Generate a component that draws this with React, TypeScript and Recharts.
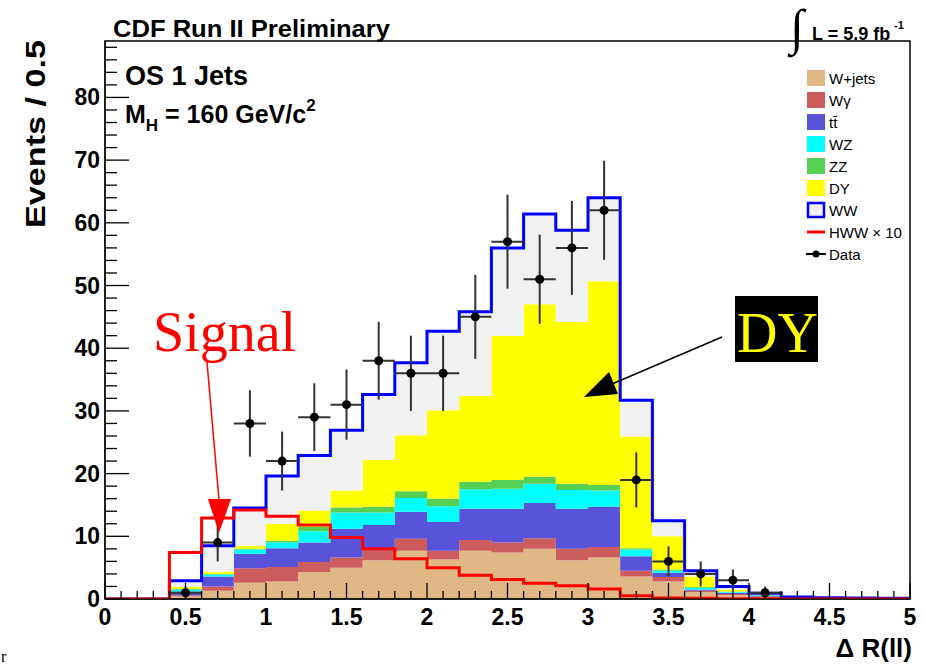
import React from "react";
import {
  ComposedChart,
  Area,
  Line,
  Scatter,
  ErrorBar,
  XAxis,
  YAxis,
  ReferenceArea,
} from "recharts";

// bin low edges (width 0.2), last edge 5
const BIN_LOW = [
  0, 0.2, 0.4, 0.6, 0.8, 1.0, 1.2, 1.4, 1.6, 1.8, 2.0, 2.2, 2.4, 2.6, 2.8,
  3.0, 3.2, 3.4, 3.6, 3.8, 4.0, 4.2, 4.4, 4.6, 4.8,
];
const LAST_EDGE = 5;

// background contributions per bin (stacked bottom -> top)
const W_JETS = [0, 0, 0.4, 1.3, 2.6, 2.8, 4.3, 5.0, 6.2, 7.7, 6.3, 7.7, 7.4, 8.0, 6.2, 6.6, 3.6, 2.8, 1.1, 0.6, 0.3, 0.1, 0.05, 0.03, 0.02];
const W_GAMMA = [0, 0, 0.2, 0.7, 2.3, 2.3, 1.6, 1.6, 1.8, 1.9, 1.4, 1.7, 1.6, 1.7, 1.8, 1.7, 0.9, 0.7, 0.2, 0.2, 0.1, 0.02, 0.01, 0.01, 0];
const TTBAR = [0, 0, 0.6, 1.6, 2.3, 3.0, 3.1, 4.6, 3.8, 4.3, 4.6, 5.0, 5.4, 5.6, 6.4, 6.4, 2.3, 0.7, 0.2, 0.2, 0.1, 0.05, 0.04, 0.03, 0.02];
const WZ = [0, 0, 0.3, 0.3, 0.7, 0.9, 1.8, 2.6, 2.0, 2.2, 2.5, 3.1, 3.2, 3.1, 3.0, 2.6, 1.1, 0.3, 0.3, 0.1, 0.1, 0.03, 0.02, 0.01, 0.01];
const ZZ = [0, 0, 0.1, 0.1, 0.1, 0.3, 0.7, 0.8, 0.9, 1.1, 1.2, 1.2, 1.4, 1.1, 1.0, 0.9, 0.2, 0.2, 0.1, 0.1, 0.05, 0, 0, 0, 0];
const DY = [0, 0, 0.3, 0.3, 0.5, 2.7, 2.6, 2.7, 7.5, 8.9, 14.1, 13.7, 23.0, 27.5, 25.8, 32.5, 17.8, 5.3, 1.7, 0.3, 0.05, 0.02, 0.01, 0.01, 0.01];
const WW = [0, 0, 1.0, 4.2, 6.0, 7.6, 8.8, 9.6, 10.4, 11.6, 12.6, 13.4, 14.0, 14.4, 14.6, 13.3, 5.8, 2.5, 0.9, 0.5, 0.2, 0.08, 0.07, 0.06, 0.04];
// signal, scaled x10
const HWW_X10 = [0, 0, 7.4, 12.9, 14.2, 13.2, 11.8, 9.8, 8.0, 6.4, 5.0, 3.8, 3.1, 2.5, 2.1, 1.6, 0.5, 0.15, 0.1, 0.05, 0.03, 0.02, 0.01, 0.01, 0.01];

// data points
const DATA_X = [0.5, 0.7, 0.9, 1.1, 1.3, 1.5, 1.7, 1.9, 2.1, 2.3, 2.5, 2.7, 2.9, 3.1, 3.3, 3.5, 3.7, 3.9, 4.1];
const DATA_Y = [1, 9, 28, 22, 29, 31, 38, 36, 36, 45, 57, 51, 56, 62, 19, 6, 4, 3, 1];
const DATA_ERR = [1, 3, 5.3, 4.7, 5.4, 5.6, 6.2, 6, 6, 6.7, 7.5, 7.1, 7.5, 7.9, 4.4, 2.4, 2, 1.7, 1];

const X_LABELS = [0, 0.5, 1, 1.5, 2, 2.5, 3, 3.5, 4, 4.5, 5];
const Y_LABELS = [0, 10, 20, 30, 40, 50, 60, 70, 80];

const COLORS = {
  wjets: "#dfb886",
  wg: "#cd5c5c",
  tt: "#5953d9",
  wz: "#00ffff",
  zz: "#55d055",
  dy: "#ffff00",
  wwFill: "#f1f1f1",
  wwLine: "#0000ff",
  hww: "#ff0000",
};

const LEGEND = [
  { label: "W+jets", kind: "box", color: COLORS.wjets },
  { label: "Wγ", kind: "box", color: COLORS.wg },
  { label: "tt̄", kind: "box", color: COLORS.tt },
  { label: "WZ", kind: "box", color: COLORS.wz },
  { label: "ZZ", kind: "box", color: COLORS.zz },
  { label: "DY", kind: "box", color: COLORS.dy },
  { label: "WW", kind: "ww", color: COLORS.wwFill },
  { label: "HWW × 10", kind: "line", color: COLORS.hww },
  { label: "Data", kind: "data", color: "#000" },
];

const W = 925;
const H = 664;
const PLOT_LEFT = 105;
const PLOT_TOP = 41;
const PLOT_RIGHT = 910;
const PLOT_BOTTOM = 599;
const SANS = "'Liberation Sans', Arial, Helvetica, sans-serif";
const SERIF = "'Liberation Serif', 'Times New Roman', serif";

const rows = BIN_LOW.map((x, i) => ({
  x,
  wjets: W_JETS[i],
  wg: W_GAMMA[i],
  tt: TTBAR[i],
  wz: WZ[i],
  zz: ZZ[i],
  dy: DY[i],
  ww: WW[i],
  hww: HWW_X10[i],
}));
rows.push({ ...rows[rows.length - 1], x: LAST_EDGE });

const points = DATA_X.map((x, i) => ({ x, y: DATA_Y[i], ex: 0.1, ey: DATA_ERR[i] }));

const xTicks = Array.from({ length: 51 }, (_, i) => i / 10);
const yTicks = Array.from({ length: 45 }, (_, i) => i * 2);

const XTick = (props: any) => {
  const { x, payload } = props;
  const v = payload.value;
  const major = X_LABELS.some((l) => Math.abs(l - v) < 1e-6);
  return (
    <g>
      <line x1={x} x2={x} y1={PLOT_BOTTOM} y2={PLOT_BOTTOM - (major ? 16 : 8)} stroke="#000" strokeWidth={1.3} />
      {major && (
        <text x={x} y={PLOT_BOTTOM + 26} textAnchor="middle" fontFamily={SANS} fontWeight="bold" fontSize={23} fill="#000">
          {String(v)}
        </text>
      )}
    </g>
  );
};

const YTick = (props: any) => {
  const { y, payload } = props;
  const v = payload.value;
  const major = Y_LABELS.includes(v);
  return (
    <g>
      <line x1={PLOT_LEFT} x2={PLOT_LEFT + (major ? 24 : 12)} y1={y} y2={y} stroke="#000" strokeWidth={1.3} />
      {major && (
        <text x={PLOT_LEFT - 5} y={y + 8} textAnchor="end" fontFamily={SANS} fontWeight="bold" fontSize={23} fill="#000">
          {v}
        </text>
      )}
    </g>
  );
};

const Dot = (props: any) => <circle cx={props.cx} cy={props.cy} r={4.5} fill="#000" />;

const Overlay = () => (
  <svg width={W} height={H} style={{ position: "absolute", left: 0, top: 0, pointerEvents: "none" }}>
    <text x={113} y={37} fontFamily={SANS} fontWeight="bold" fontSize={23} textLength={277} lengthAdjust="spacingAndGlyphs">
      CDF Run II Preliminary
    </text>
    <text x={790} y={44} fontFamily={SERIF} fontSize={50}>∫</text>
    <text x={812} y={40} fontFamily={SANS} fontWeight="bold" fontSize={18}>L = 5.9 fb</text>
    <text x={894} y={29} fontFamily={SANS} fontWeight="bold" fontSize={11}>-1</text>

    <text x={125} y={85} fontFamily={SANS} fontWeight="bold" fontSize={27}>OS 1 Jets</text>
    <text x={125} y={123} fontFamily={SANS} fontWeight="bold" fontSize={25}>
      M<tspan dy={8} fontSize={17}>H</tspan>
      <tspan dy={-8}> = 160 GeV/c</tspan>
      <tspan dy={-12} fontSize={17}>2</tspan>
    </text>

    <text transform="translate(45,40) rotate(-90)" textAnchor="end" fontFamily={SANS} fontWeight="bold" fontSize={27} textLength={188} lengthAdjust="spacingAndGlyphs">
      Events / 0.5
    </text>
    <text x={912} y={657} textAnchor="end" fontFamily={SANS} fontWeight="bold" fontSize={26}>Δ R(ll)</text>

    {LEGEND.map((e, i) => {
      const cy = 78 + i * 22;
      return (
        <g key={e.label}>
          {e.kind === "box" && <rect x={807} y={cy - 8} width={18} height={16} fill={e.color} />}
          {e.kind === "ww" && <rect x={808} y={cy - 7} width={16} height={14} fill={e.color} stroke={COLORS.wwLine} strokeWidth={2.5} />}
          {e.kind === "line" && <line x1={807} x2={825} y1={cy} y2={cy} stroke={e.color} strokeWidth={3} />}
          {e.kind === "data" && (
            <g>
              <line x1={806} x2={826} y1={cy} y2={cy} stroke="#000" strokeWidth={2} />
              <circle cx={816} cy={cy} r={3.5} fill="#000" />
            </g>
          )}
          <text x={829} y={cy + 6} fontFamily={SANS} fontSize={15} fill="#000">{e.label}</text>
        </g>
      );
    })}

    <text x={153} y={351} fontFamily={SERIF} fontSize={56} fill="#ff0000">Signal</text>
    <line x1={207} y1={362} x2={219} y2={500} stroke="#ff0000" strokeWidth={1.5} />
    <polygon points="208,499 231,499 219,533" fill="#ff0000" />

    <rect x={735} y={296} width={83} height={66} fill="#000" />
    <text x={737} y={352} fontFamily={SERIF} fontSize={56} fill="#ffff00">DY</text>
    <line x1={722} y1={337} x2={612} y2={384} stroke="#000" strokeWidth={1.5} />
    <polygon points="584,397 609,372 618,394" fill="#000" />

    <text x={1} y={662} fontFamily={SERIF} fontSize={16}>r</text>
  </svg>
);

export default function App() {
  return (
    <div style={{ position: "absolute", left: 0, top: 0, width: W, height: H, background: "#fff" }}>
      <ComposedChart
        width={W}
        height={H}
        data={rows}
        margin={{ top: PLOT_TOP, right: W - PLOT_RIGHT, bottom: 35, left: 45 }}
      >
        <XAxis
          dataKey="x"
          type="number"
          domain={[0, 5]}
          ticks={xTicks}
          interval={0}
          tick={XTick}
          tickLine={false}
          height={30}
          stroke="#000"
          allowDataOverflow
        />
        <YAxis
          type="number"
          domain={[0, 89]}
          ticks={yTicks}
          interval={0}
          tick={YTick}
          tickLine={false}
          width={60}
          stroke="#000"
          allowDataOverflow
        />
        <Area type="stepAfter" dataKey="wjets" stackId="bkg" fill={COLORS.wjets} fillOpacity={1} stroke="none" isAnimationActive={false} dot={false} activeDot={false} />
        <Area type="stepAfter" dataKey="wg" stackId="bkg" fill={COLORS.wg} fillOpacity={1} stroke="none" isAnimationActive={false} dot={false} activeDot={false} />
        <Area type="stepAfter" dataKey="tt" stackId="bkg" fill={COLORS.tt} fillOpacity={1} stroke="none" isAnimationActive={false} dot={false} activeDot={false} />
        <Area type="stepAfter" dataKey="wz" stackId="bkg" fill={COLORS.wz} fillOpacity={1} stroke="none" isAnimationActive={false} dot={false} activeDot={false} />
        <Area type="stepAfter" dataKey="zz" stackId="bkg" fill={COLORS.zz} fillOpacity={1} stroke="none" isAnimationActive={false} dot={false} activeDot={false} />
        <Area type="stepAfter" dataKey="dy" stackId="bkg" fill={COLORS.dy} fillOpacity={1} stroke="none" isAnimationActive={false} dot={false} activeDot={false} />
        <Area type="stepAfter" dataKey="ww" stackId="bkg" fill={COLORS.wwFill} fillOpacity={1} stroke={COLORS.wwLine} strokeWidth={3} isAnimationActive={false} dot={false} activeDot={false} />
        <Line type="stepAfter" dataKey="hww" stroke={COLORS.hww} strokeWidth={3} dot={false} activeDot={false} isAnimationActive={false} />
        <Scatter data={points} dataKey="y" shape={Dot} isAnimationActive={false}>
          <ErrorBar dataKey="ey" direction="y" width={0} stroke="#333" strokeWidth={2} isAnimationActive={false} />
          <ErrorBar dataKey="ex" direction="x" width={0} stroke="#333" strokeWidth={2} isAnimationActive={false} />
        </Scatter>
        <ReferenceArea x1={0} x2={5} y1={0} y2={89} fill="none" stroke="#000" strokeWidth={1.5} ifOverflow="visible" />
      </ComposedChart>
      <Overlay />
    </div>
  );
}
